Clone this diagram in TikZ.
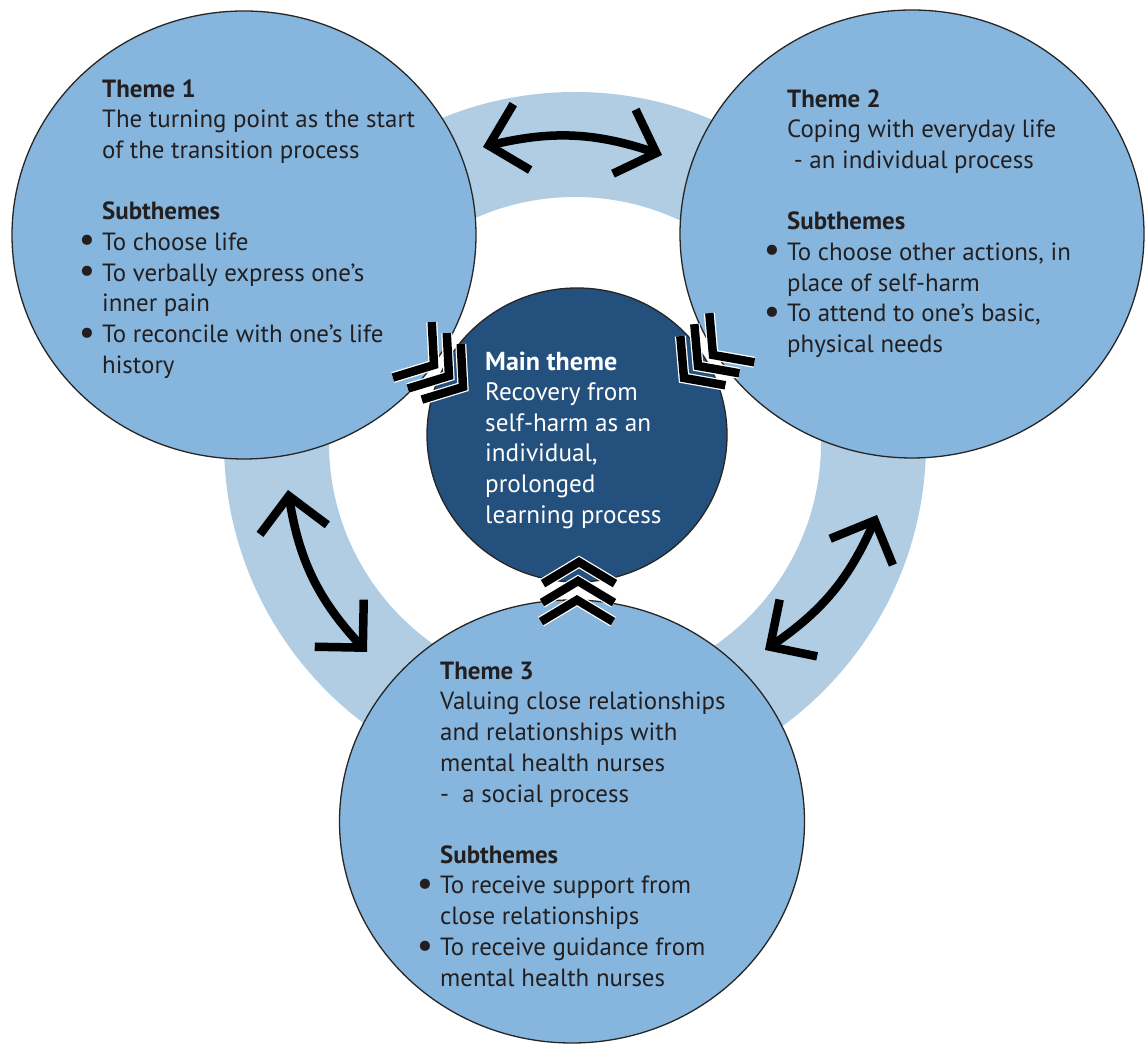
\documentclass[tikz,border=0pt]{standalone}
\usepackage{fontspec}
\setmainfont{PT Sans}
\usetikzlibrary{arrows.meta,shapes.geometric,bending}
\definecolor{ringblue}{HTML}{B0CDE3}
\definecolor{themeblue}{HTML}{86B6DD}
\definecolor{mainblue}{HTML}{24507E}
\definecolor{ink}{HTML}{231F20}
\newcommand\thbul{\llap{\raisebox{-1.5pt}{\scalebox{1.45}{\textbullet}}\hspace{7pt}}}
\newcommand\chevr[4]{%
  \draw[chevhalo] (#1) ++(#2:#4) -- (#1) -- ++(#3:#4);
  \draw[chevline] (#1) ++(#2:#4) -- (#1) -- ++(#3:#4);}
\begin{document}
\begin{tikzpicture}[x=1pt,y=1pt,
  themecircle/.style={ellipse, draw=black!85, line width=1.3pt, fill=themeblue, inner sep=0pt},
  maincircle/.style={ellipse, draw=black!85, line width=1.3pt, fill=mainblue, inner sep=0pt},
  themetext/.style={anchor=north west, inner sep=0pt, align=left, text=ink, font=\fontsize{24.9}{30.8}\selectfont},
  maintext/.style={anchor=north west, inner sep=0pt, align=left, text=white, font=\fontsize{25.2}{30.6}\selectfont},
  twoway/.style={line width=8.5pt, {Straight Barb[length=34pt,width=68pt]}-{Straight Barb[length=34pt,width=68pt]}},
  chevline/.style={line width=8.5pt, line join=miter, black},
  chevhalo/.style={line width=11pt, line join=miter, white},
]
\useasboundingbox (0,0) rectangle (1145,1046);
\fill[white] (0,0) rectangle (1145,1046);
% ring
\fill[ringblue, even odd rule] (575,603) circle[radius=351] (575,603) circle[radius=246];
% circles
\node[themecircle, minimum width=464pt, minimum height=448pt] (t1) at (244,811) {};
\node[themecircle, minimum width=464pt, minimum height=448pt] (t2) at (912,812) {};
\node[themecircle, minimum width=465pt, minimum height=443pt] (t3) at (572,224.5) {};
\node[maincircle, minimum width=300pt, minimum height=294pt] (mt) at (577,611) {};
% texts
\node[themetext] (t1txt) at (102,969) {\rule{0pt}{20pt}\textbf{Theme 1}\\
The turning point as the start\\
of the transition process\\[30pt]
\textbf{Subthemes}\\
\thbul To choose life\\
\thbul To verbally express one’s\\
inner pain\\
\thbul To reconcile with one’s life\\
history};
\node[themetext] (t2txt) at (787,959) {\rule{0pt}{20pt}\textbf{Theme 2}\\
Coping with everyday life\\
\ - an individual process\\[30pt]
\textbf{Subthemes}\\
\thbul To choose other actions, in\\
place of self-harm\\
\thbul To attend to one’s basic,\\
physical needs};
\node[themetext] (t3txt) at (440,387) {\rule{0pt}{20pt}\textbf{Theme 3}\\
Valuing close relationships\\
and relationships with\\
mental health nurses\\
-\ \ a social process\\[30pt]
\textbf{Subthemes}\\
\thbul To receive support from\\
close relationships\\
\thbul To receive guidance from\\
mental health nurses};
\node[maintext] (mtxt) at (485,696) {\rule{0pt}{20pt}{\fontsize{26}{30.6}\selectfont\textbf{Main theme}}\\
Recovery from\\
self-harm as an\\
individual,\\
prolonged\\
learning process};
% two-way arrows between themes
\coordinate (a12s) at (483,899);
\coordinate (a12e) at (662,891);
\coordinate (a13s) at (288,556);
\coordinate (a13e) at (367,394);
\coordinate (a23s) at (765,396);
\coordinate (a23e) at (877,531);
\draw[twoway] (a12s) to[bend left=17] (a12e);
\draw[twoway] (a13s) to[bend right=18] (a13e);
\draw[twoway] (a23s) to[bend right=17] (a23e);
% chevrons towards the main theme
\coordinate (cl1) at (434,681);
\coordinate (cl2) at (449,670);
\coordinate (cl3) at (463,659);
\coordinate (cr1) at (713,691);
\coordinate (cr2) at (698,680);
\coordinate (cr3) at (684,668);
\coordinate (cb1) at (577,446);
\coordinate (cb2) at (578,465);
\coordinate (cb3) at (579,484);
\chevr{cl1}{93}{197}{43}
\chevr{cl2}{93}{197}{43}
\chevr{cl3}{93}{197}{43}
\chevr{cr1}{95}{-10}{42}
\chevr{cr2}{95}{-10}{42}
\chevr{cr3}{95}{-10}{42}
\chevr{cb1}{211}{-31}{42}
\chevr{cb2}{211}{-31}{42}
\chevr{cb3}{211}{-31}{42}
\end{tikzpicture}
\end{document}
